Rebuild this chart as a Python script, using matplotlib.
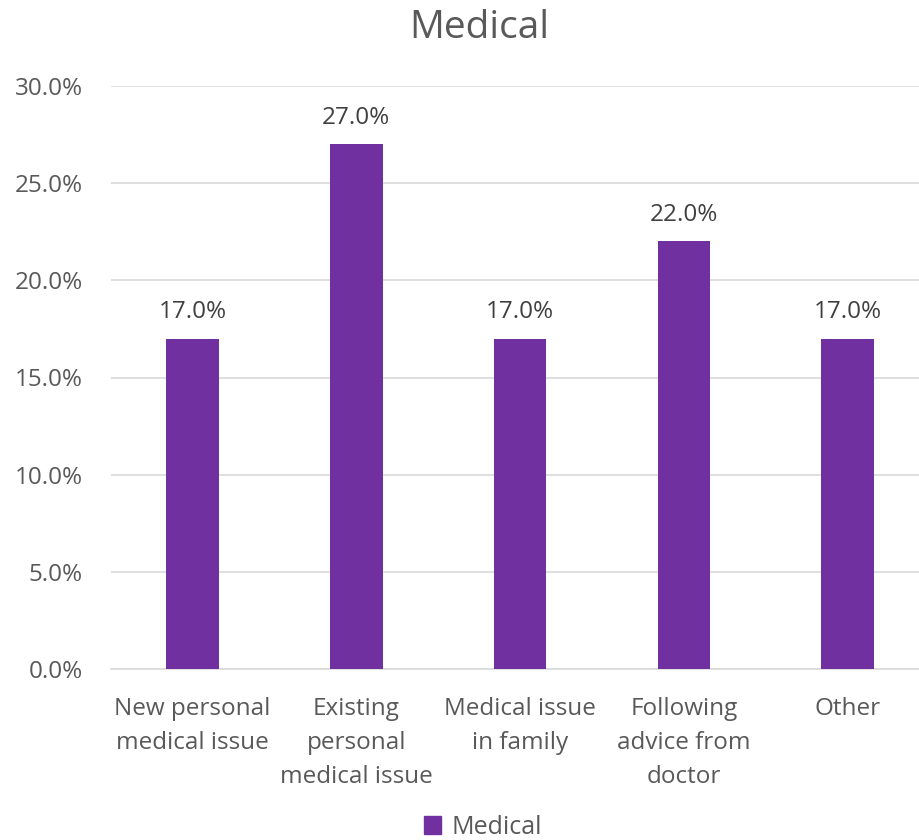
import matplotlib.pyplot as plt
from matplotlib.patches import Patch

plt.rcParams['font.family'] = ['Open Sans', 'DejaVu Sans']

categories = ['New personal\nmedical issue', 'Existing\npersonal\nmedical issue',
              'Medical issue\nin family', 'Following\nadvice from\ndoctor', 'Other']
values = [17.0, 27.0, 17.0, 22.0, 17.0]
yticks = [0, 5, 10, 15, 20, 25, 30]

bar_color = '#7030A0'
text_color = '#595959'

fig = plt.figure(figsize=(9.19, 8.40), dpi=100)
# plot area runs a little past the right edge, as in the original
ax = fig.add_axes([110.6 / 919, 1 - 669 / 840, 819 / 919, 583 / 840])

x = list(range(len(categories)))
bars = ax.bar(x, values, width=0.32, color=bar_color, zorder=3)

for xi, v in zip(x, values):
    ax.text(xi, v + 0.75, f'{v:.1f}%', ha='center', va='bottom',
            fontsize=17.5, color='#404040')

ax.set_xlim(-0.5, len(categories) - 0.5)
ax.set_ylim(0, 30)
ax.set_yticks(yticks)
ax.set_yticklabels([f'{t:.1f}%' for t in yticks], fontsize=17.5, color=text_color)
ax.set_xticks(x)
ax.set_xticklabels(categories, fontsize=17.5, color=text_color, linespacing=1.55)
ax.tick_params(axis='both', length=0)
ax.tick_params(axis='x', pad=20)
ax.tick_params(axis='y', pad=20)

ax.grid(axis='y', color='#D9D9D9', linewidth=1.2, zorder=0)
for s in ['top', 'right', 'left']:
    ax.spines[s].set_visible(False)
ax.spines['bottom'].set_color('#D9D9D9')
ax.spines['bottom'].set_linewidth(1.2)

fig.text(479 / 919, 1 - 28 / 840, 'Medical', ha='center', va='center',
         fontsize=28, color=text_color)

fig.legend(handles=[Patch(color=bar_color, label='Medical')],
           loc='center', bbox_to_anchor=(483 / 919, 1 - 827 / 840),
           frameon=False, fontsize=18, handlelength=0.7, handleheight=0.7,
           handletextpad=0.4, labelcolor=text_color)

fig.savefig('out.png', dpi=100)
